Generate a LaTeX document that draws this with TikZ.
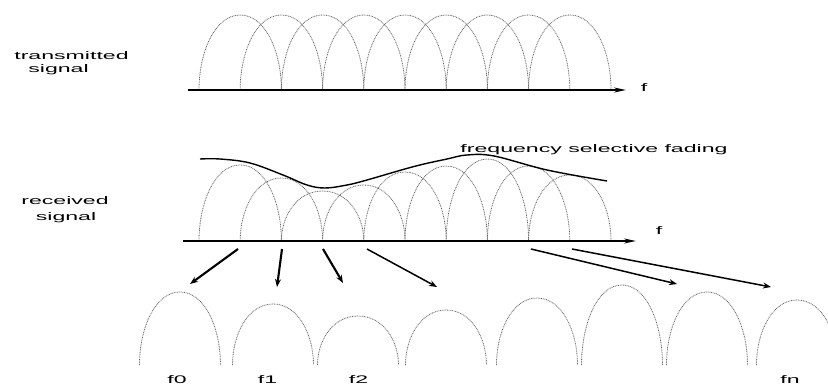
\documentclass[tikz,border=0pt]{standalone}
\usepackage{fontspec}
\setsansfont{Liberation Sans}
\usepackage{graphicx}
\usepackage{tikz}
\usetikzlibrary{arrows.meta}
\definecolor{lobegray}{RGB}{105,105,105}
\newcommand{\widetext}[1]{\scalebox{2.1}[1]{#1}}
% one sub-carrier lobe: centre, base line, half width, height
\newcommand{\carrier}[4]{%
  \draw[lobe] ({#1-#3},#2) .. controls ({#1-#3},{#2-0.5*#4}) and ({#1-0.62*#3},{#2-#4}) .. (#1,{#2-#4})
    .. controls ({#1+0.62*#3},{#2-#4}) and ({#1+#3},{#2-0.5*#4}) .. ({#1+#3},#2);}

\begin{document}
\begin{tikzpicture}[x=1pt, y=-1pt, font=\sffamily\fontsize{11}{13}\selectfont,
  lobe/.style={lobegray, line width=0.8pt, dash pattern=on 0.9pt off 0.8pt},
  fadecurve/.style={line width=1.4pt},
  faxis/.style={line width=1.8pt, -{Stealth[length=12pt,width=5pt]}},
  split/.style={-{Stealth[length=8pt,width=6pt]}},
  lbl/.style={anchor=base, inner sep=0pt}]
  \useasboundingbox (0,0) rectangle (828,385);
  \clip (0,0) rectangle (828,385);
  % ---- transmitted signal (top) ----
  \foreach \k in {0,...,8} {
    \pgfmathsetmacro\cx{240.2+41.2*\k}
    \carrier{\cx}{90}{41.2}{75}
  }
  \coordinate (top0) at (188,90);
  \coordinate (top1) at (626,90);
  \draw[faxis] (top0) -- (top1);
  \node[lbl] (topf) at (644,91.5) {\widetext{f}};
  \node[lbl] (txa) at (71.5,60) {\widetext{transmitted}};
  \node[lbl] (txb) at (58.5,72.7) {\widetext{signal}};
  % ---- received signal, lobes scaled by the channel ----
  \foreach \h [count=\k from 0] in {76,63,50,56,69,75,82,75,66} {
    \pgfmathsetmacro\cx{240.2+41.2*\k}
    \carrier{\cx}{241}{41.2}{\h}
  }
  \draw[fadecurve] plot[smooth, tension=0.6] coordinates {(200,159) (220,159) (250,163)
    (283,175) (307,185) (325,188) (347,185) (367,180) (414,166.5) (447,159)
    (467,155) (494,156) (547,170) (607,181)};
  \node[lbl] (fade) at (594,152.8) {\widetext{frequency selective fading}};
  \coordinate (rx0) at (183,241);
  \coordinate (rx1) at (636,241);
  \draw[faxis] (rx0) -- (rx1);
  \node[lbl] (rxf) at (659,235) {\widetext{f}};
  \node[lbl] (rxa) at (65,204.7) {\widetext{received}};
  \node[lbl] (rxb) at (66,220.7) {\widetext{signal}};
  % ---- separated sub-carriers (bottom) ----
  \foreach \cx/\h in {180/73,273/61,358/49,446/55,537/67,622/80,707/73,797/65}
    \carrier{\cx}{365}{40.5}{\h};
  \foreach \n/\x in {0/177,1/267.5,2/358.5,n/790}
    \node[lbl] (sub\n) at (\x,383) {\widetext{f\n}};
  % arrows from the axis down to the lobes
  \foreach \n/\sx/\ex/\ey in {1/238/190/284,2/282/277/287,3/323/343/283,
                              4/367/437/287,5/531/677/284,6/572/771/287} {
    \coordinate (s\n) at (\sx,249);
    \coordinate (e\n) at (\ex,\ey);
  }
  \foreach \n in {1,2,3}
    \draw[split, line width=2.1pt] (s\n) -- (e\n);
  \foreach \n in {4,5,6}
    \draw[split, line width=1.5pt] (s\n) -- (e\n);
\end{tikzpicture}
\end{document}
